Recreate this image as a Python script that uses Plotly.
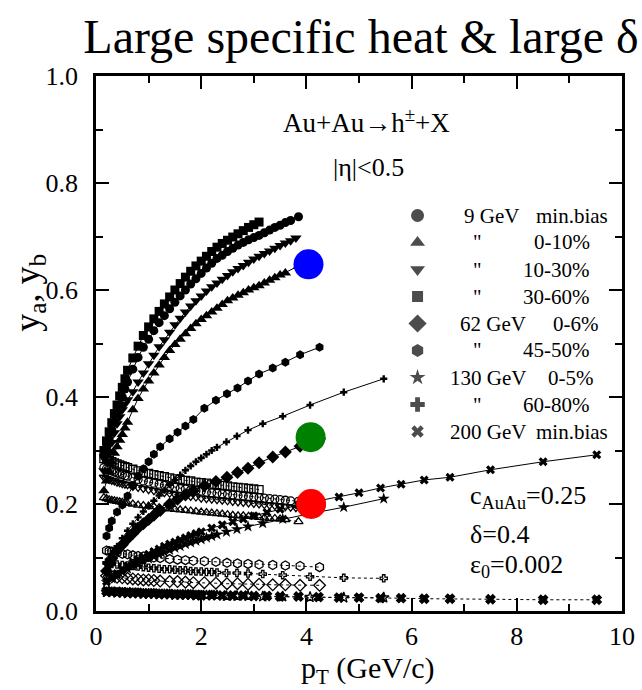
import plotly.graph_objects as go

# ---------------- data ----------------
# 9 GeV Au+Au  (filled = y_a, open = y_b)
pt_9_base = [0.15, 0.2, 0.25, 0.3, 0.35, 0.4, 0.45, 0.5, 0.55, 0.6,
             0.7, 0.8, 0.9, 1.0, 1.1, 1.2, 1.3, 1.4, 1.5, 1.6,
             1.7, 1.8, 1.9, 2.0, 2.1, 2.2, 2.3, 2.4, 2.5, 2.6,
             2.7, 2.8, 2.9, 3.0, 3.1]
pt_9_sq = pt_9_base
pt_9_mb = pt_9_base + [3.2, 3.3, 3.4, 3.5, 3.6, 3.7, 3.85]
pt_9_dt = pt_9_base + [3.2, 3.3, 3.4, 3.5, 3.6, 3.7, 3.8]
pt_9_ut = pt_9_base + [3.2, 3.3, 3.4, 3.5, 3.6, 3.85]

ya_9_sq = [0.300, 0.318, 0.335, 0.352, 0.369, 0.385, 0.402, 0.418, 0.434, 0.450,
           0.473, 0.495, 0.515, 0.531, 0.546, 0.560, 0.574, 0.587, 0.600, 0.612,
           0.624, 0.635, 0.645, 0.654, 0.663, 0.672, 0.680, 0.687, 0.693, 0.699,
           0.705, 0.711, 0.717, 0.722, 0.727]
yb_9_sq = [0.285, 0.283, 0.281, 0.279, 0.277, 0.275, 0.273, 0.271, 0.270, 0.268,
           0.265, 0.262, 0.259, 0.257, 0.255, 0.253, 0.251, 0.249, 0.247, 0.246,
           0.244, 0.243, 0.241, 0.240, 0.239, 0.237, 0.236, 0.235, 0.234, 0.232,
           0.231, 0.230, 0.229, 0.228, 0.227]

ya_9_mb = [0.290, 0.306, 0.322, 0.338, 0.354, 0.370, 0.385, 0.400, 0.415, 0.428,
           0.452, 0.474, 0.493, 0.508, 0.524, 0.539, 0.552, 0.565, 0.577, 0.589,
           0.600, 0.611, 0.621, 0.631, 0.641, 0.650, 0.659, 0.665, 0.672, 0.678,
           0.684, 0.689, 0.694, 0.698, 0.702,
           0.707, 0.712, 0.717, 0.721, 0.726, 0.730, 0.737]
yb_9_mb = [0.268, 0.266, 0.264, 0.262, 0.260, 0.258, 0.256, 0.255, 0.253, 0.252,
           0.249, 0.246, 0.243, 0.241, 0.239, 0.237, 0.235, 0.233, 0.231, 0.229,
           0.228, 0.226, 0.225, 0.224, 0.222, 0.221, 0.220, 0.219, 0.218, 0.217,
           0.216, 0.215, 0.214, 0.213, 0.212,
           0.211, 0.210, 0.209, 0.208, 0.207, 0.206, 0.205]

ya_9_dt = [0.262, 0.280, 0.298, 0.315, 0.333, 0.350, 0.363, 0.376, 0.387, 0.395,
           0.410, 0.428, 0.445, 0.462, 0.478, 0.494, 0.507, 0.521, 0.535, 0.547,
           0.559, 0.570, 0.580, 0.589, 0.598, 0.606, 0.613, 0.620, 0.627, 0.634,
           0.640, 0.646, 0.652, 0.658, 0.663,
           0.668, 0.673, 0.678, 0.683, 0.688, 0.692, 0.697]
yb_9_dt = [0.250, 0.248, 0.246, 0.244, 0.243, 0.241, 0.240, 0.238, 0.237, 0.236,
           0.233, 0.231, 0.229, 0.227, 0.225, 0.223, 0.221, 0.220, 0.218, 0.217,
           0.215, 0.214, 0.213, 0.211, 0.210, 0.209, 0.208, 0.207, 0.206, 0.205,
           0.204, 0.203, 0.202, 0.201, 0.200,
           0.199, 0.198, 0.197, 0.196, 0.195, 0.194, 0.193]

ya_9_ut = [0.225, 0.243, 0.260, 0.278, 0.295, 0.307, 0.319, 0.330, 0.342, 0.353,
           0.376, 0.397, 0.415, 0.430, 0.445, 0.460, 0.474, 0.487, 0.498, 0.508,
           0.518, 0.528, 0.537, 0.545, 0.552, 0.559, 0.566, 0.573, 0.580, 0.585,
           0.590, 0.595, 0.600, 0.604, 0.608,
           0.613, 0.618, 0.623, 0.628, 0.632, 0.645]
yb_9_ut = [0.212, 0.210, 0.208, 0.207, 0.206, 0.205, 0.204, 0.203, 0.202, 0.201,
           0.200, 0.198, 0.197, 0.196, 0.195, 0.193, 0.192, 0.191, 0.190, 0.189,
           0.188, 0.187, 0.186, 0.185, 0.184, 0.183, 0.182, 0.181, 0.180, 0.179,
           0.178, 0.178, 0.177, 0.176, 0.175,
           0.174, 0.173, 0.173, 0.172, 0.171, 0.167]

# 62 GeV Au+Au
pt_62 = [0.2, 0.25, 0.3, 0.4, 0.5, 0.6, 0.7, 0.8, 0.9, 1.0,
         1.1, 1.22, 1.4, 1.55, 1.7, 1.85, 2.06, 2.28, 2.49, 2.69,
         2.89, 3.1, 3.36, 3.6, 3.88, 4.25]
ya_62_h = [0.140, 0.155, 0.168, 0.185, 0.198, 0.215, 0.234, 0.252, 0.266, 0.279,
           0.293, 0.307, 0.322, 0.334, 0.346, 0.358, 0.379, 0.394, 0.406, 0.417,
           0.430, 0.443, 0.454, 0.465, 0.479, 0.493]
yb_62_h = [0.113, 0.112, 0.111, 0.109, 0.107, 0.106, 0.104, 0.103, 0.102, 0.101,
           0.100, 0.099, 0.097, 0.096, 0.095, 0.094, 0.093, 0.092, 0.090, 0.089,
           0.088, 0.087, 0.086, 0.085, 0.084, 0.082]
ya_62_d = [0.075, 0.088, 0.098, 0.113, 0.124, 0.135, 0.145, 0.155, 0.163, 0.171,
           0.179, 0.188, 0.200, 0.209, 0.217, 0.225, 0.234, 0.242, 0.250, 0.259,
           0.267, 0.277, 0.288, 0.297, 0.308, 0.322]
yb_62_d = [0.066, 0.065, 0.064, 0.063, 0.062, 0.061, 0.060, 0.059, 0.058, 0.058,
           0.057, 0.056, 0.055, 0.055, 0.054, 0.053, 0.053, 0.052, 0.051, 0.051,
           0.050, 0.050, 0.049, 0.049, 0.048, 0.048]

# 130 GeV Au+Au
pt_130 = [0.2, 0.3, 0.4, 0.5, 0.6, 0.7, 0.8, 0.9, 1.0, 1.1,
          1.2, 1.3, 1.4, 1.5, 1.6, 1.7, 1.8, 1.9, 2.0, 2.1,
          2.2, 2.3, 2.48, 2.68, 2.89, 3.17, 3.55, 4.07, 4.71, 5.47]
ya_130_p = [0.090, 0.106, 0.121, 0.136, 0.150, 0.163, 0.175, 0.186, 0.196, 0.206,
            0.216, 0.226, 0.236, 0.245, 0.254, 0.263, 0.271, 0.279, 0.286, 0.293,
            0.300, 0.306, 0.316, 0.327, 0.338, 0.350, 0.364, 0.385, 0.409, 0.434]
yb_130_p = [0.090, 0.088, 0.087, 0.086, 0.085, 0.084, 0.083, 0.082, 0.081, 0.080,
            0.079, 0.078, 0.078, 0.077, 0.076, 0.076, 0.075, 0.074, 0.074, 0.073,
            0.073, 0.072, 0.071, 0.071, 0.070, 0.069, 0.067, 0.064, 0.062, 0.061]
ya_130_s = [0.054, 0.061, 0.067, 0.073, 0.079, 0.084, 0.089, 0.094, 0.098, 0.102,
            0.106, 0.110, 0.114, 0.118, 0.121, 0.125, 0.128, 0.131, 0.134, 0.137,
            0.140, 0.143, 0.148, 0.153, 0.158, 0.164, 0.172, 0.182, 0.194, 0.210]
yb_130_s = [0.035, 0.035, 0.034, 0.034, 0.033, 0.033, 0.033, 0.032, 0.032, 0.032,
            0.031, 0.031, 0.031, 0.030, 0.030, 0.030, 0.030, 0.029, 0.029, 0.029,
            0.029, 0.029, 0.028, 0.028, 0.028, 0.027, 0.027, 0.026, 0.025, 0.025]

# 200 GeV Au+Au min.bias
pt_200 = [0.2, 0.3, 0.4, 0.5, 0.6, 0.7, 0.8, 0.9, 1.0, 1.1,
          1.2, 1.3, 1.4, 1.5, 1.6, 1.7, 1.8, 1.9, 2.0, 2.2,
          2.4, 2.6, 2.8, 3.0, 3.25, 3.5, 3.85, 4.23, 4.62, 5.0,
          5.41, 5.8, 6.24, 6.73, 7.5, 8.5, 9.52]
ya_200 = [0.055, 0.062, 0.070, 0.077, 0.084, 0.090, 0.096, 0.101, 0.106, 0.111,
          0.116, 0.121, 0.125, 0.129, 0.133, 0.137, 0.141, 0.145, 0.148, 0.155,
          0.161, 0.167, 0.172, 0.178, 0.184, 0.190, 0.198, 0.206, 0.213, 0.221,
          0.230, 0.237, 0.245, 0.250, 0.264, 0.279, 0.292]
yb_200 = [0.037, 0.036, 0.036, 0.035, 0.035, 0.034, 0.034, 0.033, 0.033, 0.033,
          0.032, 0.032, 0.032, 0.031, 0.031, 0.031, 0.031, 0.030, 0.030, 0.030,
          0.029, 0.029, 0.029, 0.028, 0.028, 0.027, 0.027, 0.026, 0.025, 0.025,
          0.024, 0.024, 0.023, 0.023, 0.022, 0.021, 0.021]

# highlighted points (coloured discs)
hl_pt = [4.04, 4.08, 4.09]
hl_y = [0.648, 0.325, 0.200]
hl_colors = ["#0000ff", "#008000", "#ff0000"]

# legend text
leg_energy = ["9 GeV", '"', '"', '"', "62 GeV", '"', "130 GeV", '"', "200 GeV"]
leg_cent = ["min.bias", "0-10%", "10-30%", "30-60%", "0-6%", "45-50%", "0-5%", "60-80%", "min.bias"]
leg_symbols = ["circle", "triangle-up", "triangle-down", "square", "diamond",
               "hexagon", "star", "cross", "x"]
leg_sizes = [13, 13, 13, 11, 14, 13, 12, 12, 11]

x_ticks = [0, 2, 4, 6, 8, 10]
y_ticks = [0.0, 0.2, 0.4, 0.6, 0.8, 1.0]

# ---------------- layout constants (pixels) ----------------
W, H = 642, 690
PL, PR, PT, PB = 96, 635, 76, 611
SERIF = "Liberation Serif, Times New Roman, Times, DejaVu Serif, serif"


def paper_x(px):
    return (px - PL) / (PR - PL)


def paper_y(py):
    return (PB - py) / (PB - PT)


series = [
    (pt_9_sq, ya_9_sq, yb_9_sq, "square", 9, 8),
    (pt_9_mb, ya_9_mb, yb_9_mb, "circle", 9, 8),
    (pt_9_dt, ya_9_dt, yb_9_dt, "triangle-down", 10, 8),
    (pt_9_ut, ya_9_ut, yb_9_ut, "triangle-up", 10, 8),
    (pt_62, ya_62_h, yb_62_h, "hexagon", 9, 9),
    (pt_62, ya_62_d, yb_62_d, "diamond", 10, 9),
    (pt_130, ya_130_p, yb_130_p, "cross", 6, 6),
    (pt_130, ya_130_s, yb_130_s, "star", 9, 8),
    (pt_200, ya_200, yb_200, "x", 8, 8),
]

fig = go.Figure()

# open (y_b) branches first
for pt, ya, yb, sym, sa, sb in series:
    assert len(pt) == len(ya) == len(yb)
    fig.add_trace(go.Scatter(
        x=pt, y=yb, mode="lines+markers",
        line=dict(color="black", width=1, dash="dot"),
        marker=dict(symbol=sym + "-open" if sym != "x" else "x",
                    size=sb, color="black", line=dict(color="black", width=1.3)),
        showlegend=False, hoverinfo="skip"))

for pt, ya, yb, sym, sa, sb in series:
    fig.add_trace(go.Scatter(
        x=pt, y=ya, mode="lines+markers",
        line=dict(color="black", width=1),
        marker=dict(symbol=sym, size=sa, color="black", line=dict(width=0)),
        showlegend=False, hoverinfo="skip"))

# coloured discs
fig.add_trace(go.Scatter(
    x=hl_pt, y=hl_y, mode="markers",
    marker=dict(size=30, color=hl_colors, line=dict(width=0)),
    showlegend=False, hoverinfo="skip"))

# legend keys
LEG_X = 425.5
LEG_Y0 = 215.5
LEG_DY = 27.0
leg_x = [10 * paper_x(LEG_X)] * len(leg_symbols)
leg_y = [paper_y(LEG_Y0 + i * LEG_DY) for i in range(len(leg_symbols))]
fig.add_trace(go.Scatter(
    x=leg_x, y=leg_y, mode="markers",
    marker=dict(symbol=leg_symbols, size=leg_sizes, color="black", line=dict(width=0)),
    showlegend=False, hoverinfo="skip"))

annotations = []


def add_text(text, px, py, size, xanchor="center", angle=0):
    annotations.append(dict(
        text=text, x=paper_x(px), y=paper_y(py), xref="paper", yref="paper",
        xanchor=xanchor, yanchor="middle", showarrow=False, textangle=angle,
        font=dict(family=SERIF, size=size, color="black")))


LEG_FONT = 21
for i, (en, ce) in enumerate(zip(leg_energy, leg_cent)):
    yy = LEG_Y0 + i * LEG_DY
    if en == '"':
        add_text(en, 487, yy, LEG_FONT, "center")
    else:
        add_text(en, 539 if len(en) > 5 else 532, yy, LEG_FONT, "right")
    if ce == "min.bias":
        add_text(ce, 545, yy, LEG_FONT, "left")
    elif ce == "0-6%":
        add_text(ce, 562, yy, LEG_FONT, "left")
    elif ce == "0-5%":
        add_text(ce, 557, yy, LEG_FONT, "left")
    else:
        add_text(ce, 604, yy, LEG_FONT, "right")

add_text("Au+Au\u2192h<sup>\u00b1</sup>+X", 373, 121, 27)
add_text("|\u03b7|<0.5", 375, 168, 26)
add_text("c<sub>AuAu</sub>=0.25", 477, 497, 26, "left")
add_text("\u03b4=0.4", 477, 534, 26, "left")
add_text("\u03b5<sub>0</sub>=0.002", 477, 566, 26, "left")

# axis titles
add_text("y<sub>a</sub>, y<sub>b</sub>", 27, 293, 36, "center", -90)
add_text("p<sub>T</sub> (GeV/c)", 375, 670, 30)

fig.update_layout(
    width=W, height=H,
    margin=dict(l=PL, r=W - PR, t=PT, b=H - PB, pad=0),
    paper_bgcolor="white", plot_bgcolor="white",
    font=dict(family=SERIF, color="black"),
    title=dict(text="Large specific heat &amp; large \u03b4",
               x=361 / W, y=1 - 36 / H, xref="container", yref="container",
               xanchor="center", yanchor="middle",
               font=dict(family=SERIF, size=48, color="black")),
    annotations=annotations,
    showlegend=False,
)

axis_common = dict(
    showgrid=False, zeroline=False, showline=True, linecolor="black", linewidth=2.5,
    mirror="ticks", ticks="inside", ticklen=13, tickwidth=2, tickcolor="black",
    tickfont=dict(family=SERIF, size=26, color="black"),
    ticklabeloverflow="allow",
)
fig.update_xaxes(range=[0, 10], tickvals=x_ticks, ticktext=[str(v) for v in x_ticks],
                 minor=dict(dtick=1, tick0=0, ticks="inside", ticklen=7, tickwidth=2,
                            tickcolor="black"),
                 ticklabelstandoff=0, **axis_common)
fig.update_yaxes(range=[0, 1], tickvals=y_ticks, ticktext=[f"{v:.1f}" for v in y_ticks],
                 minor=dict(dtick=0.1, tick0=0, ticks="inside", ticklen=7, tickwidth=2,
                            tickcolor="black"),
                 ticklabelstandoff=10, **axis_common)

fig.write_html("out.html")
